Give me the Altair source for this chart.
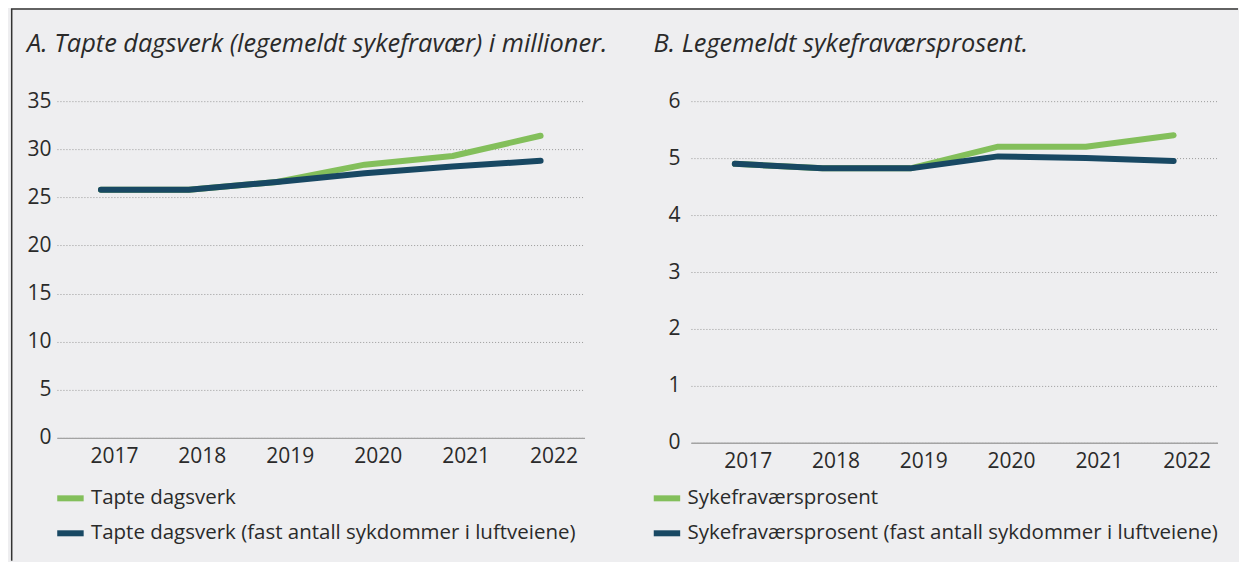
import altair as alt
import pandas as pd

years = ["2017", "2018", "2019", "2020", "2021", "2022"]

title_a = "A.  Tapte dagsverk (legemeldt sykefravær) i millioner."
title_b = "B.  Legemeldt sykefraværsprosent."

series_a = ["Tapte dagsverk", "Tapte dagsverk (fast antall sykdommer i luftveiene)"]
a_green = [25.8, 25.8, 26.6, 28.4, 29.3, 31.4]
a_navy = [25.8, 25.8, 26.6, 27.5, 28.2, 28.8]
a_ticks = [0, 5, 10, 15, 20, 25, 30, 35]

series_b = ["Sykefraværsprosent", "Sykefraværsprosent (fast antall sykdommer i luftveiene)"]
b_green = [4.9, 4.82, 4.82, 5.2, 5.2, 5.4]
b_navy = [4.9, 4.82, 4.82, 5.03, 5.0, 4.95]
b_ticks = [0, 1, 2, 3, 4, 5, 6]

colors = ["#83BF5B", "#184863"]
FONT = "Open Sans"
TXT = "#2a2a2a"


def frame(names, g, n):
    rows = []
    for y, v in zip(years, g):
        rows.append({"year": y, "value": v, "series": names[0]})
    for y, v in zip(years, n):
        rows.append({"year": y, "value": v, "series": names[1]})
    return pd.DataFrame(rows)


def panel(names, g, n, ticks, ymax, w, h, title, title_x, lab_pad, leg_x, border=False):
    df = frame(names, g, n)
    x = alt.X("year:O", title=None,
              scale=alt.Scale(type="point", padding=0.5),
              axis=alt.Axis(labelAngle=0, ticks=False, grid=False, domain=True,
                            domainColor="#a3a3a3", domainWidth=1.5,
                            labelFontSize=21, labelColor=TXT, labelPadding=8,
                            labelOffset=13, labelFont=FONT))
    y = alt.Y("value:Q", title=None,
              scale=alt.Scale(domain=[0, ymax], nice=False, zero=True),
              axis=alt.Axis(values=ticks, ticks=False, domain=False, grid=True,
                            gridColor="#9a9a9a", gridDash=[1, 2], gridWidth=1,
                            labelFontSize=21, labelColor=TXT, labelPadding=lab_pad,
                            labelFont=FONT))
    color = alt.Color("series:N",
                      scale=alt.Scale(domain=names, range=colors),
                      legend=alt.Legend(orient="none", legendX=leg_x, legendY=381,
                                        direction="vertical", title=None,
                                        symbolType="stroke", symbolStrokeWidth=6,
                                        symbolSize=700, labelFontSize=20.5,
                                        labelFont=FONT, labelColor=TXT,
                                        labelOffset=4, rowPadding=6,
                                        labelLimit=800, padding=0))
    layers = []
    for s in names:
        layers.append(
            alt.Chart(df).transform_filter(alt.datum.series == s)
            .mark_line(strokeWidth=6, strokeCap="round", strokeJoin="round")
            .encode(x=x, y=y, color=color)
        )
    tdf = pd.DataFrame({"t": [title]})
    layers.append(
        alt.Chart(tdf).mark_text(align="left", baseline="alphabetic", fontSize=25.4,
                                 fontStyle="italic", font=FONT, color=TXT)
        .encode(text="t:N", x=alt.value(title_x), y=alt.value(-49))
    )
    if border:
        one = pd.DataFrame({"k": [0]})
        layers.append(
            alt.Chart(one).mark_rule(color="#333333", strokeWidth=1.5)
            .encode(x=alt.value(-45.3), y=alt.value(-92.25), y2=alt.value(460))
        )
        layers.append(
            alt.Chart(one).mark_rule(color="#333333", strokeWidth=1.5)
            .encode(x=alt.value(-46.05), x2=alt.value(1182), y=alt.value(-92.25))
        )
    return alt.layer(*layers).properties(width=w, height=h)


pa = panel(series_a, a_green, a_navy, a_ticks, 35, 528, 337, title_a, -30, 6, -3, border=True)
pb = panel(series_b, b_green, b_navy, b_ticks, 6, 527, 342, title_b, -37.5, 11, -40.5)

chart = (
    alt.hconcat(pa, pb, spacing=106.5, bounds="flush")
    .resolve_scale(color="independent", y="independent", x="independent")
    .resolve_legend(color="independent")
    .properties(background="#EEEEF0",
                padding={"left": 2, "top": 0, "right": 0, "bottom": 0})
    .configure(font=FONT)
    .configure_view(stroke=None, strokeWidth=0)
)

chart.save("out.html", embed_options={"renderer": "svg", "actions": False})
